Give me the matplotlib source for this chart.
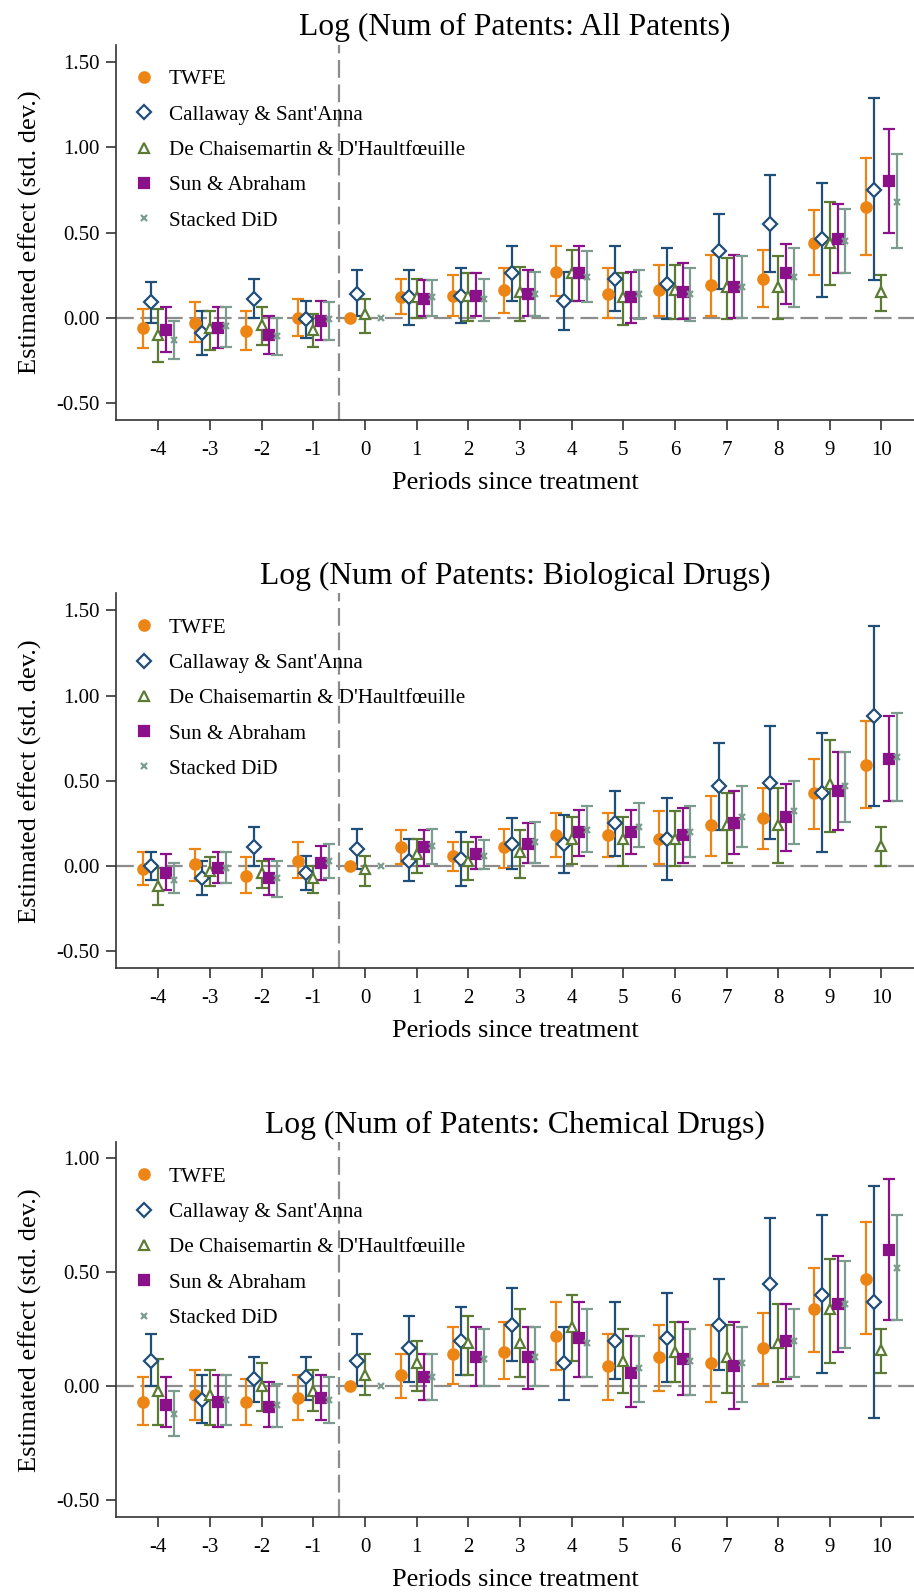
import numpy as np
import matplotlib
matplotlib.use("Agg")
import matplotlib.pyplot as plt
from matplotlib.lines import Line2D

plt.rcParams['font.family'] = ['Liberation Serif', 'DejaVu Serif']
plt.rcParams['axes.unicode_minus'] = False

periods = [-4, -3, -2, -1, 0, 1, 2, 3, 4, 5, 6, 7, 8, 9, 10]
estimators = ["TWFE", "Callaway & Sant'Anna", "De Chaisemartin & D'Haultf\u0153uille",
              "Sun & Abraham", "Stacked DiD"]
titles = ["Log (Num of Patents: All Patents)",
          "Log (Num of Patents: Biological Drugs)",
          "Log (Num of Patents: Chemical Drugs)"]

nan = np.nan

# panel 1: all patents (rows = estimators, cols = periods)
all_est = [
    [-0.06, -0.03, -0.08, 0.00, 0.00, 0.12, 0.13, 0.16, 0.27, 0.14, 0.16, 0.19, 0.23, 0.44, 0.65],
    [0.09, -0.09, 0.11, -0.01, 0.14, 0.12, 0.13, 0.26, 0.10, 0.23, 0.20, 0.39, 0.55, 0.46, 0.75],
    [-0.10, -0.06, -0.04, -0.07, 0.02, 0.12, 0.13, 0.15, 0.26, 0.12, 0.16, 0.18, 0.18, 0.44, 0.15],
    [-0.07, -0.06, -0.10, -0.02, nan, 0.11, 0.13, 0.14, 0.26, 0.12, 0.15, 0.18, 0.26, 0.46, 0.80],
    [-0.13, -0.05, -0.11, -0.01, 0.00, 0.12, 0.11, 0.14, 0.24, 0.14, 0.14, 0.18, 0.24, 0.45, 0.68],
]
all_lo = [
    [-0.18, -0.14, -0.19, -0.11, nan, 0.02, 0.01, 0.03, 0.13, 0.00, 0.01, 0.01, 0.06, 0.25, 0.37],
    [-0.03, -0.22, 0.00, -0.12, 0.01, -0.04, -0.03, 0.10, -0.07, 0.04, -0.01, 0.17, 0.27, 0.12, 0.22],
    [-0.26, -0.19, -0.16, -0.17, -0.09, 0.00, -0.02, -0.02, 0.10, -0.04, -0.01, -0.01, -0.01, 0.19, 0.04],
    [-0.20, -0.18, -0.21, -0.13, nan, 0.01, 0.01, 0.01, 0.10, -0.03, -0.01, 0.00, 0.08, 0.26, 0.50],
    [-0.24, -0.17, -0.22, -0.13, nan, 0.01, -0.02, 0.01, 0.09, -0.01, -0.02, 0.00, 0.06, 0.26, 0.41],
]
all_hi = [
    [0.05, 0.09, 0.04, 0.11, nan, 0.23, 0.25, 0.29, 0.42, 0.29, 0.31, 0.37, 0.40, 0.63, 0.94],
    [0.21, 0.04, 0.23, 0.10, 0.28, 0.28, 0.29, 0.42, 0.27, 0.42, 0.41, 0.61, 0.84, 0.79, 1.29],
    [0.05, 0.04, 0.06, 0.02, 0.11, 0.23, 0.26, 0.30, 0.40, 0.26, 0.31, 0.35, 0.36, 0.68, 0.25],
    [0.06, 0.06, 0.01, 0.10, nan, 0.22, 0.26, 0.28, 0.42, 0.27, 0.32, 0.37, 0.43, 0.67, 1.11],
    [-0.02, 0.06, 0.00, 0.09, nan, 0.22, 0.23, 0.27, 0.39, 0.28, 0.29, 0.36, 0.41, 0.64, 0.96],
]

# panel 2: biological drugs
bio_est = [
    [-0.02, 0.01, -0.06, 0.03, 0.00, 0.11, 0.06, 0.11, 0.18, 0.18, 0.16, 0.24, 0.28, 0.43, 0.59],
    [0.00, -0.07, 0.11, -0.04, 0.10, 0.03, 0.04, 0.13, 0.13, 0.25, 0.16, 0.47, 0.49, 0.43, 0.88],
    [-0.12, -0.03, -0.04, -0.07, -0.02, 0.07, 0.03, 0.08, 0.16, 0.16, 0.16, 0.24, 0.24, 0.48, 0.12],
    [-0.04, -0.01, -0.07, 0.02, nan, 0.11, 0.07, 0.13, 0.20, 0.20, 0.18, 0.25, 0.29, 0.44, 0.63],
    [-0.08, -0.01, -0.07, 0.03, 0.00, 0.12, 0.06, 0.14, 0.21, 0.23, 0.20, 0.29, 0.32, 0.47, 0.64],
]
bio_lo = [
    [-0.11, -0.09, -0.16, -0.07, nan, 0.01, -0.03, -0.01, 0.05, 0.05, 0.01, 0.06, 0.10, 0.22, 0.34],
    [-0.08, -0.17, 0.00, -0.14, -0.02, -0.09, -0.12, -0.02, -0.04, 0.06, -0.08, 0.21, 0.16, 0.08, 0.35],
    [-0.23, -0.12, -0.13, -0.16, -0.12, -0.04, -0.08, -0.07, 0.01, 0.00, 0.00, 0.02, 0.02, 0.20, 0.00],
    [-0.14, -0.10, -0.17, -0.08, nan, 0.00, -0.02, 0.02, 0.06, 0.07, 0.02, 0.07, 0.09, 0.21, 0.38],
    [-0.16, -0.10, -0.18, -0.07, nan, 0.01, -0.02, 0.02, 0.08, 0.11, 0.05, 0.11, 0.13, 0.26, 0.38],
]
bio_hi = [
    [0.08, 0.10, 0.05, 0.14, nan, 0.21, 0.14, 0.22, 0.31, 0.31, 0.32, 0.41, 0.46, 0.63, 0.85],
    [0.08, 0.03, 0.23, 0.06, 0.22, 0.16, 0.20, 0.28, 0.30, 0.44, 0.40, 0.72, 0.82, 0.78, 1.41],
    [-0.01, 0.05, 0.03, 0.00, 0.06, 0.16, 0.14, 0.21, 0.29, 0.29, 0.32, 0.43, 0.46, 0.74, 0.23],
    [0.07, 0.08, 0.04, 0.12, nan, 0.21, 0.17, 0.25, 0.33, 0.33, 0.34, 0.44, 0.48, 0.67, 0.88],
    [0.02, 0.08, 0.03, 0.13, nan, 0.22, 0.15, 0.26, 0.35, 0.37, 0.35, 0.47, 0.50, 0.67, 0.90],
]

# panel 3: chemical drugs
chem_est = [
    [-0.07, -0.04, -0.07, -0.05, 0.00, 0.05, 0.14, 0.15, 0.22, 0.09, 0.13, 0.10, 0.17, 0.34, 0.47],
    [0.11, -0.06, 0.03, 0.04, 0.11, 0.17, 0.20, 0.27, 0.10, 0.20, 0.21, 0.27, 0.45, 0.40, 0.37],
    [-0.02, -0.04, 0.00, -0.02, 0.05, 0.10, 0.19, 0.19, 0.26, 0.11, 0.15, 0.13, 0.19, 0.34, 0.16],
    [-0.08, -0.07, -0.09, -0.05, nan, 0.04, 0.13, 0.13, 0.21, 0.06, 0.12, 0.09, 0.20, 0.36, 0.60],
    [-0.12, -0.06, -0.08, -0.06, 0.00, 0.04, 0.12, 0.13, 0.19, 0.08, 0.11, 0.10, 0.20, 0.36, 0.52],
]
chem_lo = [
    [-0.17, -0.15, -0.17, -0.15, nan, -0.05, 0.01, 0.03, 0.07, -0.06, -0.02, -0.07, 0.01, 0.15, 0.23],
    [0.00, -0.16, -0.07, -0.06, 0.00, 0.02, 0.05, 0.11, -0.06, 0.03, 0.02, 0.07, 0.17, 0.06, -0.14],
    [-0.17, -0.17, -0.11, -0.11, -0.04, -0.02, 0.05, 0.04, 0.11, -0.03, 0.02, -0.03, 0.02, 0.10, 0.06],
    [-0.18, -0.18, -0.18, -0.15, nan, -0.06, 0.00, -0.01, 0.04, -0.09, -0.04, -0.10, 0.03, 0.15, 0.29],
    [-0.22, -0.17, -0.18, -0.16, nan, -0.06, 0.00, 0.00, 0.04, -0.07, -0.04, -0.07, 0.04, 0.17, 0.29],
]
chem_hi = [
    [0.04, 0.07, 0.03, 0.05, nan, 0.14, 0.26, 0.28, 0.37, 0.23, 0.27, 0.27, 0.32, 0.52, 0.72],
    [0.23, 0.05, 0.13, 0.13, 0.23, 0.31, 0.35, 0.43, 0.26, 0.37, 0.41, 0.47, 0.74, 0.75, 0.88],
    [0.12, 0.07, 0.10, 0.07, 0.14, 0.20, 0.31, 0.34, 0.40, 0.25, 0.28, 0.27, 0.36, 0.56, 0.25],
    [0.04, 0.05, 0.02, 0.05, nan, 0.14, 0.26, 0.26, 0.37, 0.22, 0.28, 0.28, 0.36, 0.57, 0.91],
    [-0.02, 0.05, 0.01, 0.04, nan, 0.14, 0.25, 0.26, 0.34, 0.22, 0.25, 0.26, 0.34, 0.55, 0.75],
]

colors = ['#ED8515', '#1F4E79', '#5B7B34', '#8A1189', '#7C9C8E']
markers = ['o', 'D', '^', 's', 'x']
msizes = [7.5, 6.8, 7.2, 7, 4.5]
filled = [True, False, False, True, True]
offsets = [-0.3, -0.15, 0.0, 0.15, 0.3]


def draw_panel(ax, title, est, lo, hi, ylim, yticks):
    x0 = np.array(periods, dtype=float)
    ax.axhline(0, color='#8C8C8C', lw=1.6, dashes=(8, 3), zorder=1)
    ax.axvline(-0.5, color='#8C8C8C', lw=1.6, dashes=(8, 3), zorder=1)
    for i in range(len(estimators)):
        x = x0 + offsets[i]
        e = np.array(est[i], dtype=float)
        l = np.array(lo[i], dtype=float)
        h = np.array(hi[i], dtype=float)
        ok = ~np.isnan(l)
        ax.errorbar(x[ok], e[ok], yerr=[e[ok] - l[ok], h[ok] - e[ok]], fmt='none',
                    ecolor=colors[i], elinewidth=1.6, capsize=4.5, capthick=1.6, zorder=2)
        fc = colors[i] if filled[i] else 'white'
        ax.plot(x, e, ls='none', marker=markers[i], ms=msizes[i], mfc=fc,
                mec=colors[i], mew=1.6, zorder=3)
    ax.set_xlim(-4.82, 10.63)
    ax.set_ylim(*ylim)
    ax.set_xticks(periods)
    ax.set_yticks(yticks)
    ax.set_yticklabels(['%.2f' % t for t in yticks])
    ax.tick_params(labelsize=15, length=7, width=1.2, colors='#333333', labelcolor='black', pad=5)
    ax.tick_params(axis='x', pad=8)
    for s in ['top', 'right']:
        ax.spines[s].set_visible(False)
    for s in ['left', 'bottom']:
        ax.spines[s].set_color('#333333')
        ax.spines[s].set_linewidth(1.2)
    ax.set_title(title, fontsize=22.8, pad=7)
    ax.set_xlabel('Periods since treatment', fontsize=19, labelpad=8.5)
    ax.set_ylabel('Estimated effect (std. dev.)', fontsize=19, labelpad=10)
    handles = []
    for i in range(len(estimators)):
        fc = colors[i] if filled[i] else 'white'
        handles.append(Line2D([], [], ls='none', marker=markers[i], ms=msizes[i],
                              mfc=fc, mec=colors[i], mew=1.6, label=estimators[i]))
    ax.legend(handles=handles, loc='upper left', bbox_to_anchor=(0.0, 0.974), frameon=False,
              fontsize=15.2, labelspacing=0.735, handletextpad=0.6, handlelength=1.2,
              borderaxespad=0.3)


fig = plt.figure(figsize=(9.14, 15.92), dpi=100)
ax1 = fig.add_axes([0.127, 0.7362, 0.873, 0.2355])
ax2 = fig.add_axes([0.127, 0.3918, 0.873, 0.2355])
ax3 = fig.add_axes([0.127, 0.0469, 0.873, 0.2355])

draw_panel(ax1, titles[0], all_est, all_lo, all_hi, (-0.6, 1.6), [-0.5, 0.0, 0.5, 1.0, 1.5])
draw_panel(ax2, titles[1], bio_est, bio_lo, bio_hi, (-0.6, 1.6), [-0.5, 0.0, 0.5, 1.0, 1.5])
draw_panel(ax3, titles[2], chem_est, chem_lo, chem_hi, (-0.575, 1.07), [-0.5, 0.0, 0.5, 1.0])

fig.savefig('out.png', dpi=100)
